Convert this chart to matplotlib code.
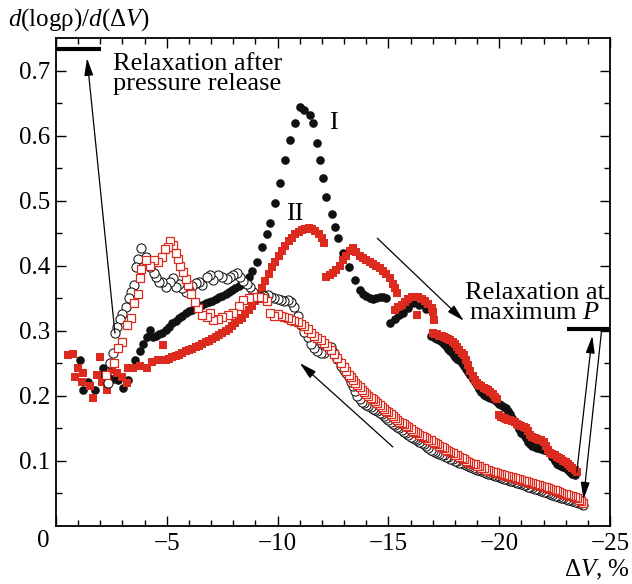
import matplotlib
matplotlib.use("Agg")
import matplotlib.pyplot as plt

# --- data: dV in %, value = d(log rho)/d(dV) ---

# I: compression, black filled circles
comp1_dv = [-1.08, -1.23, -1.46, -1.76, -1.99, -2.14, -2.35, -2.59, -2.82, -3.04,
            -3.27, -3.57, -3.79, -3.94, -4.10, -4.24, -4.39, -4.50, -4.65, -4.80,
            -4.95, -5.10, -5.25, -5.40, -5.55, -5.70, -5.85, -6.00, -6.15, -6.30,
            -6.45, -6.60, -6.75, -6.90, -7.05, -7.20, -7.35, -7.50, -7.65, -7.80,
            -7.95, -8.10, -8.25, -8.40, -8.55, -8.70, -8.85, -9.05, -9.30, -9.50,
            -9.66, -9.88, -10.10, -10.33, -10.56, -10.80, -11.00, -11.20, -11.46, -11.60,
            -11.78, -11.90, -12.05, -12.20, -12.45, -12.60, -12.73, -12.95, -13.20, -13.50,
            -13.70, -13.85, -14.00, -14.15, -14.30, -14.45, -14.60, -14.75, -14.90, -15.07,
            -15.30, -15.50, -15.67, -15.90, -16.10, -16.40, -16.70,
            -16.9, -17.0, -17.1, -17.2, -17.3, -17.4, -17.5, -17.6, -17.7, -17.8,
            -17.9, -18.0, -18.1, -18.2, -18.3, -18.4, -18.5, -18.6, -18.7, -18.8,
            -18.9, -19.0, -19.1, -19.2, -19.3, -19.4, -19.5, -19.6, -19.7, -19.8,
            -19.9, -20.0, -20.1, -20.2, -20.3, -20.4, -20.5, -20.6, -20.7, -20.8,
            -20.9, -21.0, -21.1, -21.2, -21.3, -21.4, -21.5, -21.6, -21.7, -21.8,
            -21.9, -22.0, -22.1, -22.2, -22.3, -22.4, -22.5, -22.6, -22.7, -22.8,
            -22.9, -23.0, -23.1, -23.2, -23.3, -23.4]
comp1_val = [0.255, 0.209, 0.221, 0.209, 0.232, 0.242, 0.228, 0.226, 0.224, 0.211,
             0.224, 0.255, 0.268, 0.280, 0.290, 0.301, 0.290, 0.292, 0.294, 0.296,
             0.301, 0.306, 0.311, 0.315, 0.319, 0.323, 0.327, 0.330, 0.332, 0.335,
             0.337, 0.340, 0.342, 0.344, 0.346, 0.348, 0.351, 0.353, 0.356, 0.359,
             0.362, 0.365, 0.368, 0.372, 0.376, 0.382, 0.392, 0.405, 0.428, 0.448,
             0.465, 0.496, 0.527, 0.562, 0.593, 0.619, 0.644, 0.640, 0.632, 0.619,
             0.588, 0.562, 0.535, 0.505, 0.480, 0.459, 0.442, 0.420, 0.398, 0.378,
             0.362, 0.357, 0.353, 0.350, 0.349, 0.350, 0.351, 0.352, 0.350, 0.311,
             0.318, 0.324, 0.327, 0.335, 0.342, 0.340, 0.333,
             0.292, 0.291, 0.289, 0.287, 0.285, 0.282, 0.279, 0.276, 0.272, 0.268,
             0.264, 0.260, 0.257, 0.254, 0.250, 0.246, 0.241, 0.236, 0.231, 0.226,
             0.221, 0.216, 0.210, 0.205, 0.201, 0.199, 0.198, 0.197, 0.195, 0.193,
             0.190, 0.187, 0.185, 0.183, 0.181, 0.177, 0.172, 0.166, 0.160, 0.154,
             0.148, 0.143, 0.139, 0.134, 0.129, 0.125, 0.122, 0.121, 0.120, 0.119,
             0.118, 0.117, 0.116, 0.114, 0.111, 0.106, 0.100, 0.095, 0.093, 0.091,
             0.090, 0.088, 0.086, 0.083, 0.080, 0.078]

# II: compression, red filled squares
comp2_dv = [-0.56, -0.75, -0.84, -0.99, -1.16, -1.23, -1.54, -1.69, -1.84, -1.99,
            -2.06, -2.29, -2.51, -2.74, -2.96, -3.19, -3.27, -3.49, -3.79, -4.09,
            -4.32, -4.62, -4.85,
            -4.95, -5.10, -5.25, -5.40, -5.55, -5.70, -5.85, -6.00, -6.15, -6.30,
            -6.45, -6.60, -6.75, -6.90, -7.05, -7.20, -7.35, -7.50, -7.65, -7.80,
            -7.95, -8.10, -8.25, -8.40, -8.55, -8.70, -8.85, -9.00, -9.15, -9.30,
            -9.45, -9.60, -9.75, -9.90, -10.05, -10.20, -10.35, -10.50, -10.65, -10.80,
            -10.95, -11.10, -11.25, -11.40, -11.55, -11.70, -11.85, -12.00, -12.10,
            -12.20, -12.35, -12.50, -12.65, -12.80, -12.95, -13.10, -13.25, -13.40, -13.55,
            -13.70, -13.85, -14.00, -14.15, -14.30, -14.45, -14.60, -14.75, -14.90, -15.05,
            -15.20, -15.30, -15.40,
            -15.30, -15.45, -15.60, -15.75, -15.90, -16.05, -16.20, -16.35, -16.50, -16.65,
            -16.80, -16.95, -17.00, -16.30, -17.05,
            -17.0, -17.1, -17.2, -17.3, -17.4, -17.5, -17.6, -17.7, -17.8, -17.9,
            -18.0, -18.1, -18.2, -18.3, -18.4, -18.5, -18.6, -18.7, -18.8, -18.9,
            -19.0, -19.1, -19.2, -19.3, -19.4, -19.5, -19.6, -19.7, -19.8, -19.9,
            -20.0, -20.1, -20.2, -20.3, -20.4, -20.5, -20.6, -20.7, -20.8, -20.9,
            -21.0, -21.1, -21.2, -21.3, -21.4, -21.5, -21.6, -21.7, -21.8, -21.9,
            -22.0, -22.1, -22.2, -22.3, -22.4, -22.5, -22.6, -22.7, -22.8, -22.9,
            -23.0, -23.1, -23.2, -23.3, -23.4, -23.5]
comp2_val = [0.262, 0.264, 0.229, 0.242, 0.221, 0.234, 0.214, 0.196, 0.232, 0.260,
             0.221, 0.209, 0.239, 0.234, 0.229, 0.219, 0.242, 0.242, 0.245, 0.242,
             0.252, 0.255, 0.278,
             0.255, 0.257, 0.259, 0.261, 0.263, 0.266, 0.268, 0.270, 0.272, 0.275,
             0.277, 0.279, 0.282, 0.284, 0.287, 0.290, 0.293, 0.296, 0.299, 0.303,
             0.307, 0.311, 0.316, 0.320, 0.326, 0.332, 0.338, 0.346, 0.355, 0.365,
             0.376, 0.387, 0.397, 0.405, 0.414, 0.423, 0.430, 0.437, 0.443, 0.448,
             0.451, 0.454, 0.456, 0.457, 0.456, 0.453, 0.449, 0.443, 0.435,
             0.383, 0.385, 0.388, 0.393, 0.400, 0.408, 0.415, 0.422, 0.427, 0.421,
             0.415, 0.411, 0.408, 0.405, 0.402, 0.399, 0.396, 0.392, 0.387, 0.381,
             0.372, 0.365, 0.358,
             0.332, 0.336, 0.340, 0.344, 0.348, 0.351, 0.352, 0.351, 0.349, 0.346,
             0.341, 0.334, 0.328, 0.324, 0.316,
             0.297, 0.295, 0.294, 0.292, 0.291, 0.290, 0.289, 0.287, 0.285, 0.282,
             0.279, 0.275, 0.270, 0.266, 0.262, 0.255, 0.247, 0.238, 0.230, 0.224,
             0.220, 0.216, 0.214, 0.212, 0.210, 0.208, 0.206, 0.202, 0.198, 0.194,
             0.170, 0.167, 0.166, 0.164, 0.163, 0.162, 0.161, 0.159, 0.157, 0.155,
             0.153, 0.152, 0.150, 0.145, 0.140, 0.136, 0.134, 0.133, 0.132, 0.131,
             0.129, 0.123, 0.117, 0.112, 0.110, 0.108, 0.106, 0.104, 0.102, 0.100,
             0.098, 0.095, 0.092, 0.089, 0.086, 0.082]

# I: decompression, black open circles
dec1_dv = [-23.8, -23.7, -23.6, -23.5, -23.4, -23.3, -23.2, -23.1, -23.0, -22.9,
           -22.8, -22.7, -22.6, -22.5, -22.4, -22.3, -22.2, -22.1, -22.0, -21.9,
           -21.8, -21.7, -21.6, -21.5, -21.4, -21.3, -21.2, -21.1, -21.0, -20.9,
           -20.8, -20.7, -20.6, -20.5, -20.4, -20.3, -20.2, -20.1, -20.0, -19.9,
           -19.8, -19.7, -19.6, -19.5, -19.4, -19.3, -19.2, -19.1, -19.0, -18.9,
           -18.8, -18.7, -18.6, -18.5, -18.4, -18.3, -18.2, -18.1, -18.0, -17.9,
           -17.8, -17.7, -17.6, -17.5, -17.4, -17.3, -17.2, -17.1, -17.0, -16.9,
           -16.8, -16.7, -16.6, -16.5, -16.4, -16.3, -16.2, -16.1, -16.0, -15.9,
           -15.8, -15.7, -15.6, -15.5, -15.4, -15.3, -15.2, -15.1, -15.0, -14.9,
           -14.8, -14.7, -14.6, -14.5, -14.4, -14.3, -14.2, -14.1, -14.0, -13.9,
           -13.8, -13.7, -13.6, -13.5, -13.4, -13.3, -13.2, -13.1, -13.0,
           -12.85, -12.7, -12.55, -12.4, -12.25, -12.1, -11.95, -11.8, -11.65, -11.5,
           -11.35, -11.2, -11.05, -10.9, -10.75, -10.6, -10.45, -10.3, -10.15, -10.0,
           -9.85, -9.7, -9.55, -9.4, -9.25, -9.05, -8.9, -8.75, -8.6, -8.45,
           -8.3, -8.15, -8.0, -7.85, -7.7, -7.5, -7.3, -7.1, -6.95, -6.8,
           -6.6, -6.45, -6.3, -6.15, -6.0, -5.85, -5.7, -5.55, -5.4, -5.3,
           -5.15, -4.95, -4.8, -4.65, -4.5, -4.4, -4.25, -4.05, -3.85, -3.7,
           -3.6, -3.5, -3.4, -3.3, -3.15, -3.0, -2.9, -2.75, -2.66, -2.57,
           -2.45, -2.35]
dec1_val = [0.032, 0.034, 0.035, 0.036, 0.037, 0.038, 0.039, 0.040, 0.041, 0.042,
            0.043, 0.044, 0.045, 0.046, 0.047, 0.048, 0.050, 0.051, 0.052, 0.053,
            0.054, 0.056, 0.057, 0.058, 0.059, 0.060, 0.062, 0.063, 0.064, 0.065,
            0.066, 0.067, 0.068, 0.069, 0.070, 0.071, 0.072, 0.073, 0.075, 0.076,
            0.077, 0.078, 0.079, 0.080, 0.081, 0.082, 0.084, 0.085, 0.086, 0.087,
            0.089, 0.090, 0.091, 0.093, 0.094, 0.096, 0.097, 0.099, 0.100, 0.102,
            0.103, 0.105, 0.106, 0.108, 0.109, 0.110, 0.112, 0.113, 0.115, 0.117,
            0.120, 0.123, 0.125, 0.127, 0.129, 0.131, 0.133, 0.135, 0.137, 0.139,
            0.142, 0.144, 0.147, 0.150, 0.152, 0.155, 0.157, 0.160, 0.162, 0.165,
            0.168, 0.171, 0.173, 0.176, 0.178, 0.180, 0.182, 0.184, 0.186, 0.188,
            0.190, 0.194, 0.200, 0.207, 0.214, 0.221, 0.228, 0.234, 0.240,
            0.246, 0.256, 0.266, 0.274, 0.272, 0.266, 0.265, 0.268, 0.273, 0.280,
            0.290, 0.298, 0.308, 0.322, 0.336, 0.344, 0.347, 0.345, 0.347, 0.348,
            0.350, 0.352, 0.354, 0.353, 0.352, 0.352, 0.360, 0.367, 0.372, 0.376,
            0.382, 0.388, 0.386, 0.383, 0.380, 0.383, 0.385, 0.378, 0.385, 0.383,
            0.370, 0.375, 0.373, 0.368, 0.362, 0.359, 0.365, 0.372, 0.367, 0.381,
            0.375, 0.367, 0.375, 0.374, 0.382, 0.388, 0.397, 0.413, 0.427, 0.410,
            0.398, 0.370, 0.360, 0.350, 0.336, 0.325, 0.318, 0.305, 0.296, 0.265,
            0.250, 0.219]

# II: decompression, red open squares
dec2_dv = [-23.8, -23.7, -23.6, -23.5, -23.4, -23.3, -23.2, -23.1, -23.0, -22.9,
           -22.8, -22.7, -22.6, -22.5, -22.4, -22.3, -22.2, -22.1, -22.0, -21.9,
           -21.8, -21.7, -21.6, -21.5, -21.4, -21.3, -21.2, -21.1, -21.0, -20.9,
           -20.8, -20.7, -20.6, -20.5, -20.4, -20.3, -20.2, -20.1, -20.0, -19.9,
           -19.8, -19.7, -19.6, -19.5, -19.4, -19.3, -19.2, -19.1, -19.0, -18.9,
           -18.8, -18.7, -18.6, -18.5, -18.4, -18.3, -18.2, -18.1, -18.0, -17.9,
           -17.8, -17.7, -17.6, -17.5, -17.4, -17.3, -17.2, -17.1, -17.0, -16.9,
           -16.8, -16.7, -16.6, -16.5, -16.4, -16.3, -16.2, -16.1, -16.0, -15.9,
           -15.8, -15.7, -15.6, -15.5, -15.4, -15.3, -15.2, -15.1, -15.0, -14.9,
           -14.8, -14.7, -14.6, -14.5, -14.4, -14.3, -14.2, -14.1, -14.0, -13.9,
           -13.8, -13.7, -13.6, -13.5, -13.4, -13.3, -13.2, -13.1, -13.0,
           -12.85, -12.7, -12.55, -12.4, -12.25, -12.1, -11.95, -11.8, -11.65, -11.5,
           -11.35, -11.2, -11.05, -10.9, -10.75, -10.6, -10.45, -10.3, -10.15, -10.0,
           -9.85, -9.65, -9.5, -9.35, -9.15, -8.9, -8.7, -8.45, -8.25, -8.0,
           -7.75, -7.5, -7.3, -7.1, -6.95, -6.8, -6.6, -6.4, -6.25, -6.1,
           -5.95, -5.85, -5.75, -5.6, -5.5, -5.4, -5.3, -5.15, -5.05, -4.9,
           -4.8, -4.6, -4.4, -4.25, -4.05, -3.85, -3.8, -3.7, -3.5, -3.4,
           -3.2, -3.0, -2.8, -2.6, -2.25]
dec2_val = [0.035, 0.038, 0.040, 0.042, 0.044, 0.045, 0.046, 0.047, 0.048, 0.049,
            0.050, 0.051, 0.053, 0.054, 0.055, 0.056, 0.058, 0.059, 0.060, 0.061,
            0.062, 0.063, 0.064, 0.065, 0.066, 0.067, 0.068, 0.069, 0.070, 0.071,
            0.072, 0.073, 0.074, 0.075, 0.076, 0.077, 0.078, 0.079, 0.080, 0.081,
            0.082, 0.083, 0.084, 0.085, 0.086, 0.088, 0.089, 0.091, 0.092, 0.094,
            0.095, 0.097, 0.098, 0.100, 0.102, 0.104, 0.106, 0.108, 0.109, 0.111,
            0.113, 0.115, 0.117, 0.119, 0.121, 0.123, 0.125, 0.127, 0.129, 0.131,
            0.132, 0.134, 0.136, 0.138, 0.140, 0.142, 0.144, 0.146, 0.149, 0.151,
            0.153, 0.156, 0.158, 0.160, 0.163, 0.166, 0.169, 0.172, 0.175, 0.177,
            0.179, 0.182, 0.185, 0.188, 0.191, 0.194, 0.196, 0.199, 0.202, 0.205,
            0.209, 0.213, 0.216, 0.220, 0.224, 0.228, 0.232, 0.238, 0.244,
            0.250, 0.258, 0.264, 0.270, 0.276, 0.281, 0.285, 0.289, 0.292, 0.297,
            0.302, 0.307, 0.310, 0.313, 0.315, 0.317, 0.319, 0.321, 0.322, 0.325,
            0.322, 0.327, 0.345, 0.350, 0.352, 0.352, 0.350, 0.347, 0.338, 0.327,
            0.324, 0.321, 0.318, 0.316, 0.327, 0.321, 0.324, 0.334, 0.344, 0.357,
            0.370, 0.380, 0.390, 0.400, 0.410, 0.420, 0.432, 0.437, 0.429, 0.425,
            0.413, 0.405, 0.409, 0.400, 0.409, 0.395, 0.381, 0.357, 0.342, 0.319,
            0.309, 0.283, 0.273, 0.250, 0.232]

# relaxation levels (short thick bars) and where they sit
relax_release = 0.733
relax_release_dv = [0.0, -2.05]
relax_maxp = 0.302
relax_maxp_dv = [-23.05, -25.0]

xticks = [0, -5, -10, -15, -20, -25]
xtick_labels = ['', '\u22125', '\u221210', '\u221215', '\u221220', '\u221225']
yticks = [0.1, 0.2, 0.3, 0.4, 0.5, 0.6, 0.7]

RED = '#dc2a1e'

plt.rcParams['font.family'] = ['Liberation Serif', 'DejaVu Serif']
plt.rcParams['mathtext.fontset'] = 'custom'
plt.rcParams['mathtext.rm'] = 'Liberation Serif'
plt.rcParams['mathtext.it'] = 'Liberation Serif:italic'

fig = plt.figure(figsize=(6.32, 5.84), dpi=100)
ax = fig.add_axes([56/632, 58.4/584, 554/632, 487.6/584])

ax.plot(comp1_dv, comp1_val, 'o', color='#111111', ms=6.2, mew=0, zorder=2)
ax.plot(comp2_dv, comp2_val, 's', color=RED, ms=5.3, mew=0, zorder=3)
ax.plot(dec1_dv, dec1_val, 'o', mfc='white', mec='#111111', ms=6.6, mew=0.75, zorder=4)
ax.plot(dec2_dv, dec2_val, 's', mfc='white', mec=RED, ms=5.3, mew=0.9, zorder=5)

# relaxation bars
ax.plot(relax_release_dv, [relax_release]*2, color='k', lw=3, solid_capstyle='butt', zorder=6)
ax.plot(relax_maxp_dv, [relax_maxp]*2, color='k', lw=3, solid_capstyle='butt', zorder=6)

arr = dict(arrowstyle='-|>,head_length=0.7,head_width=0.18', color='k', lw=0.9,
           mutation_scale=15, shrinkA=0, shrinkB=0)
ax.annotate('', xy=(-1.4, 0.719), xytext=(-2.66, 0.296), arrowprops=arr, zorder=7)
ax.annotate('', xy=(-24.2, 0.292), xytext=(-23.5, 0.082), arrowprops=arr, zorder=7)
ax.annotate('', xy=(-23.8, 0.040), xytext=(-24.62, 0.300), arrowprops=arr, zorder=7)
ax.annotate('', xy=(-18.4, 0.315), xytext=(-14.5, 0.442), arrowprops=arr, zorder=7)
ax.annotate('', xy=(-11.0, 0.25), xytext=(-15.2, 0.121), arrowprops=arr, zorder=7)

fs = 18
ax.text(-2.55, 0.727, 'Relaxation after\npressure release', fontsize=19, ha='left', va='top',
        linespacing=0.88)
ax.text(-21.6, 0.31, 'Relaxation at\nmaximum $P$', fontsize=19, ha='center', va='bottom',
        linespacing=0.88)
ax.text(-12.5, 0.62, 'I', fontsize=19, ha='center', va='center')
ax.text(-10.8, 0.48, 'II', fontsize=19, ha='center', va='center')

ax.set_xlim(0, -25)
ax.set_ylim(0, 0.75)
ax.set_xticks(xticks)
ax.set_xticklabels(xtick_labels)
ax.set_xticks([-v for v in range(1, 25)], minor=True)
ax.set_yticks(yticks)
ax.set_yticks([0.05 + 0.1*i for i in range(7)], minor=True)
ax.tick_params(which='both', direction='in', top=True, right=True, width=1.0, labelsize=fs)
ax.tick_params(which='major', length=7)
ax.tick_params(which='minor', length=4)
ax.tick_params(axis='x', pad=5)
ax.tick_params(axis='y', pad=4)
for s in ax.spines.values():
    s.set_linewidth(1.3)

fig.text(43/632, 1 - 541/584, '0', fontsize=fs, ha='center', va='center')
fig.text(8/632, 1 - 20/584, '$d$(log\u03c1)/$d$(\u0394$V$)', fontsize=fs, ha='left', va='center')
fig.text(630/632, 1 - 570/584, '\u0394$V$, %', fontsize=fs, ha='right', va='center')

fig.savefig('out.png', dpi=100)
